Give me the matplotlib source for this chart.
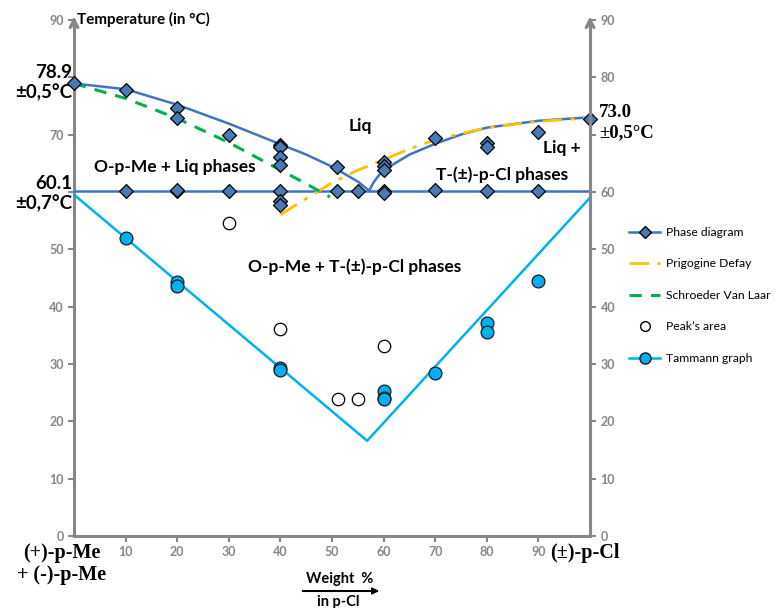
import numpy as np
import matplotlib.pyplot as plt
from matplotlib.lines import Line2D

# liquidus curve
liq_x = [0, 10, 20, 30, 40, 45, 50, 55, 57.2, 58, 59, 60, 65, 70, 75, 80, 90, 100]
liq_y = [78.9, 77.9, 75.2, 71.9, 68.3, 66.5, 64.4, 61.8, 60.2, 61.6, 62.8, 63.8, 66.5, 68.4, 70.0, 71.2, 72.4, 73.0]
eut_x = [0, 100]
eut_y = [60.1, 60.1]

# measured diamonds
dia_x = [0, 10, 20, 20, 30, 40, 40, 40, 40, 51, 60, 60, 60, 70, 80, 80, 90, 100,
         10, 20, 20, 30, 40, 40, 40, 51, 55, 60, 60, 70, 80, 90]
dia_y = [78.9, 77.8, 74.7, 72.9, 69.9, 68.2, 67.8, 66.1, 64.7, 64.4, 65.2, 64.6, 63.8, 69.4, 68.5, 67.8, 70.5, 72.7,
         60.1, 60.1, 60.3, 60.1, 60.1, 58.4, 57.8, 60.1, 60.1, 60.1, 59.8, 60.3, 60.1, 60.1]

prig_x = [40, 44, 47.7, 50, 55, 60, 65, 70, 80, 90, 100]
prig_y = [56.0, 58.3, 60.3, 61.6, 63.8, 65.6, 67.5, 69.1, 71.2, 72.3, 72.9]

sch_x = [0, 10, 20, 30, 40, 45, 49.6]
sch_y = [78.9, 76.3, 72.8, 68.6, 63.8, 61.4, 59.1]

peak_x = [30, 40, 51.2, 55, 60]
peak_y = [54.6, 36.1, 23.9, 23.9, 33.1]

tam_line_x = [0, 56.8, 100]
tam_line_y = [59.5, 16.6, 59.0]
tam_x = [10, 20, 20, 40, 40, 60, 60, 60, 70, 80, 80, 90]
tam_y = [51.9, 44.3, 43.6, 29.3, 29.0, 25.3, 24.1, 23.9, 28.4, 37.2, 35.6, 44.5]

xticks = [10, 20, 30, 40, 50, 60, 70, 80, 90]
yticks = [0, 10, 20, 30, 40, 50, 60, 70, 80, 90]

GRAY = '#878787'
BLUE = '#3E74C6'
DIA = '#4A7AB5'
CYAN = '#00B0F0'
ORANGE = '#FFC000'
GREEN = '#00B050'

plt.rcParams['font.family'] = ['Lato', 'DejaVu Sans']

fig = plt.figure(figsize=(7.76, 6.08), dpi=100)
ax = fig.add_axes([0.0954, 0.1184, 0.665, 0.849])

ax.plot(liq_x, liq_y, color=BLUE, lw=1.8, zorder=3)
ax.plot(eut_x, eut_y, color=BLUE, lw=1.8, zorder=3)
ax.plot(prig_x, prig_y, color=ORANGE, lw=2, dashes=[7, 3, 1.5, 3], zorder=4)
ax.plot(sch_x, sch_y, color=GREEN, lw=2.2, dashes=[4, 3], zorder=4)
ax.plot(tam_line_x, tam_line_y, color=CYAN, lw=1.8, zorder=3)
ax.scatter(dia_x, dia_y, marker='D', s=50, c=DIA, edgecolors='black', linewidths=0.9, zorder=6, clip_on=False)
ax.scatter(peak_x, peak_y, marker='o', s=80, c='white', edgecolors='black', linewidths=0.9, zorder=6)
ax.scatter(tam_x, tam_y, marker='o', s=85, c=CYAN, edgecolors='#1a1a1a', linewidths=0.9, zorder=6)

ax.set_xlim(0, 100)
ax.set_ylim(0, 90)
ax.spines['top'].set_visible(False)
for s in ['left', 'right', 'bottom']:
    ax.spines[s].set_color(GRAY)
    ax.spines[s].set_linewidth(2.2)

ax.set_xticks(xticks)
ax.set_xticklabels([str(t) for t in xticks])
ax.set_yticks(yticks)
ax.set_yticklabels(['' if t in (60, 80) else str(t) for t in yticks])
ax.tick_params(colors=GRAY, labelcolor=GRAY, labelsize=9, width=1.5, length=4, direction='out')
for lb in ax.get_xticklabels() + ax.get_yticklabels():
    lb.set_fontweight('bold')

ax2 = ax.twinx()
ax2.set_ylim(0, 90)
ax2.set_yticks(yticks)
ax2.set_yticklabels(['' if t == 70 else str(t) for t in yticks])
ax2.tick_params(colors=GRAY, labelcolor=GRAY, labelsize=9, width=1.5, length=4, direction='out')
for lb in ax2.get_yticklabels():
    lb.set_fontweight('bold')
for s in ['top', 'left', 'bottom']:
    ax2.spines[s].set_visible(False)
ax2.spines['right'].set_color(GRAY)
ax2.spines['right'].set_linewidth(2.2)

# arrows on top of the vertical axes
for xf in (0, 1):
    ax.annotate('', xy=(xf, 1.012), xytext=(xf, 0.98), xycoords='axes fraction',
                arrowprops=dict(arrowstyle='->', color=GRAY, lw=2.2, mutation_scale=14))

bold = dict(fontweight='bold', color='black')
ax.text(0.6, 90, 'Temperature (in °C)', fontsize=11, va='center', ha='left', **bold)
ax.text(-0.4, 79.0, '78.9\n±0,5°C', fontsize=13.5, ha='right', va='center', linespacing=1.2, **bold)
ax.text(-0.4, 59.7, '60.1\n±0,7°C', fontsize=13.5, ha='right', va='center', linespacing=1.2, **bold)
ax.text(1.018, 72.1, '73.0\n±0,5°C', fontsize=13.5, ha='left', va='center', linespacing=1.2,
        transform=ax.get_yaxis_transform(), fontweight='bold', family=['Liberation Serif', 'DejaVu Serif'])
ax.text(55.4, 71.5, 'Liq', fontsize=12.5, ha='center', va='center', **bold)
ax.text(19.6, 64.4, 'O-p-Me + Liq phases', fontsize=12.5, ha='center', va='center', **bold)
ax.text(94.6, 67.6, 'Liq +', fontsize=12.5, ha='center', va='center', **bold)
ax.text(83, 63.0, 'T-(±)-p-Cl phases', fontsize=12.5, ha='center', va='center', **bold)
ax.text(54.3, 47.0, 'O-p-Me + T-(±)-p-Cl phases', fontsize=12.5, ha='center', va='center', **bold)

serif = dict(fontweight='bold', family=['Liberation Serif', 'DejaVu Serif'], fontsize=14.5, color='black')
fig.text(62 / 776, 1 - 553 / 608, '(+)-p-Me', ha='center', va='center', **serif)
fig.text(62 / 776, 1 - 575 / 608, '+ (-)-p-Me', ha='center', va='center', **serif)
fig.text(585 / 776, 1 - 553 / 608, '(±)-p-Cl', ha='center', va='center', **serif)

fig.text(340 / 776, 1 - 579 / 608, 'Weight  %', ha='center', va='center', fontsize=10.5, fontweight='bold')
fig.text(338 / 776, 1 - 602 / 608, 'in p-Cl', ha='center', va='center', fontsize=10.5, fontweight='bold')
fig.add_artist(plt.Line2D([303 / 776, 372 / 776], [1 - 591 / 608, 1 - 591 / 608], color='black', lw=1.5))
ax.annotate('', xy=(382 / 776, 1 - 591 / 608), xytext=(368 / 776, 1 - 591 / 608), xycoords='figure fraction',
            arrowprops=dict(arrowstyle='-|>', color='black', lw=1.2, mutation_scale=10))

handles = [
    Line2D([], [], color=BLUE, lw=1.8, marker='D', markersize=6, markerfacecolor=DIA, markeredgecolor='black'),
    Line2D([], [], color=ORANGE, lw=2, dashes=[7, 3, 1.5, 3]),
    Line2D([], [], color=GREEN, lw=2.2, dashes=[4, 3]),
    Line2D([], [], ls='none', marker='o', markersize=7, markerfacecolor='white', markeredgecolor='black'),
    Line2D([], [], color=CYAN, lw=1.8, marker='o', markersize=8, markerfacecolor=CYAN, markeredgecolor='#1a1a1a'),
]
labels = ['Phase diagram', 'Prigogine Defay', 'Schroeder Van Laar', 'Peak’s area', 'Tammann graph']
fig.legend(handles, labels, loc='upper left', bbox_to_anchor=(624 / 776, 1 - 222 / 608), frameon=False,
           fontsize=8.7, labelspacing=1.7, handlelength=2.6, handletextpad=0.5, borderaxespad=0)

fig.savefig('out.png', dpi=100)
